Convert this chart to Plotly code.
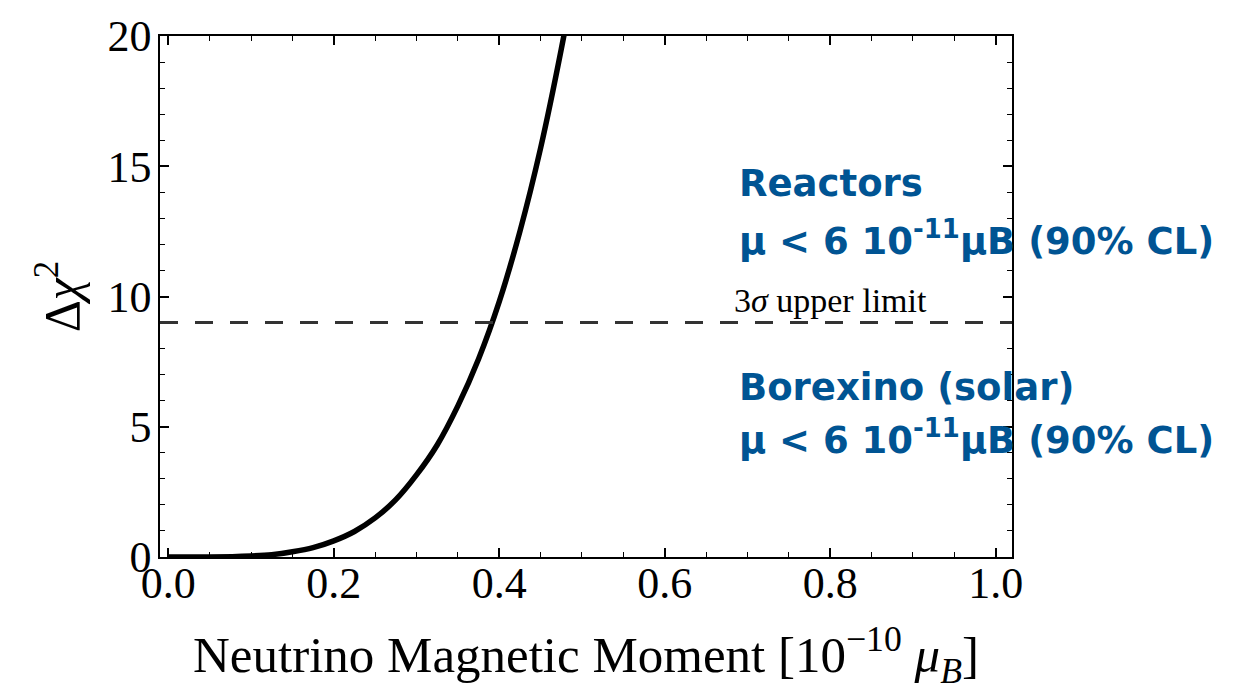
import plotly.graph_objects as go

# Data
mu = [0.0, 0.05, 0.1, 0.125, 0.15, 0.175, 0.2, 0.225, 0.25, 0.275, 0.3,
      0.325, 0.35, 0.375, 0.4, 0.425, 0.45, 0.475, 0.5]
dchi2 = [0.0, 0.0, 0.04, 0.09, 0.2, 0.36, 0.62, 0.98, 1.5, 2.2, 3.15,
         4.3, 5.8, 7.6, 9.8, 12.5, 15.7, 19.5, 23.8]
limit_3sigma = 9
x_ticks = [0.0, 0.2, 0.4, 0.6, 0.8, 1.0]
y_ticks = [0, 5, 10, 15, 20]

BLUE = "#005493"
SERIF = "Liberation Serif"

fig = go.Figure()
fig.add_trace(go.Scatter(x=mu, y=dchi2, mode="lines",
                         line=dict(color="black", width=5.5, shape="spline"),
                         showlegend=False, hoverinfo="skip"))

fig.add_shape(type="line", xref="paper", x0=0, x1=1, yref="y",
              y0=limit_3sigma, y1=limit_3sigma,
              line=dict(color="#333333", width=3, dash="18px,17px"))

fig.add_annotation(x=0.80, y=9.05, xref="x", yref="y",
                   text="3<i>σ</i> upper limit", showarrow=False,
                   font=dict(family=SERIF, size=34, color="black"),
                   xanchor="center", yanchor="bottom")

blue_font = dict(family="DejaVu Sans", size=37, color=BLUE, weight="bold")
fig.add_annotation(x=0.687, y=14.35, xref="x", yref="y", text="Reactors",
                   showarrow=False, font=blue_font, xanchor="left", yanchor="middle")
fig.add_annotation(x=0.687, y=12.22, xref="x", yref="y",
                   text="μ < 6 10<sup>-11</sup>μB (90% CL)",
                   showarrow=False, font=blue_font, xanchor="left", yanchor="middle")
fig.add_annotation(x=0.687, y=6.50, xref="x", yref="y", text="Borexino (solar)",
                   showarrow=False, font=blue_font, xanchor="left", yanchor="middle")
fig.add_annotation(x=0.687, y=4.60, xref="x", yref="y",
                   text="μ < 6 10<sup>-11</sup>μB (90% CL)",
                   showarrow=False, font=blue_font, xanchor="left", yanchor="middle")

axis_common = dict(showline=True, linecolor="black", linewidth=1.5,
                   mirror="allticks", ticks="inside", ticklen=9, tickwidth=1.5,
                   tickcolor="black", showgrid=False, zeroline=False,
                   tickfont=dict(family=SERIF, size=44, color="black"))

fig.update_xaxes(range=[-0.010, 1.0197], tickvals=x_ticks,
                 ticktext=[f"{v:.1f}" for v in x_ticks],
                 ticklabelstandoff=-14,
                 minor=dict(dtick=0.05, ticks="inside", ticklen=5,
                            tickwidth=1.2, tickcolor="black"),
                 title=dict(text="Neutrino Magnetic Moment [10<sup>−10</sup> <i>μ<sub>B</sub></i>]",
                            font=dict(family=SERIF, size=51, color="black"),
                            standoff=30),
                 **axis_common)
fig.update_yaxes(range=[0, 20], tickvals=y_ticks,
                 ticktext=[str(v) for v in y_ticks],
                 ticklabelstandoff=-2,
                 minor=dict(dtick=1, ticks="inside", ticklen=5,
                            tickwidth=1.2, tickcolor="black"),
                 title=dict(text="Δ<i>χ</i><sup>2</sup>",
                            font=dict(family=SERIF, size=50, color="black"),
                            standoff=12),
                 **axis_common)

fig.update_layout(width=1247, height=694,
                  margin=dict(l=160, r=235, t=32, b=137),
                  plot_bgcolor="white", paper_bgcolor="white")

fig.write_html("out.html")
